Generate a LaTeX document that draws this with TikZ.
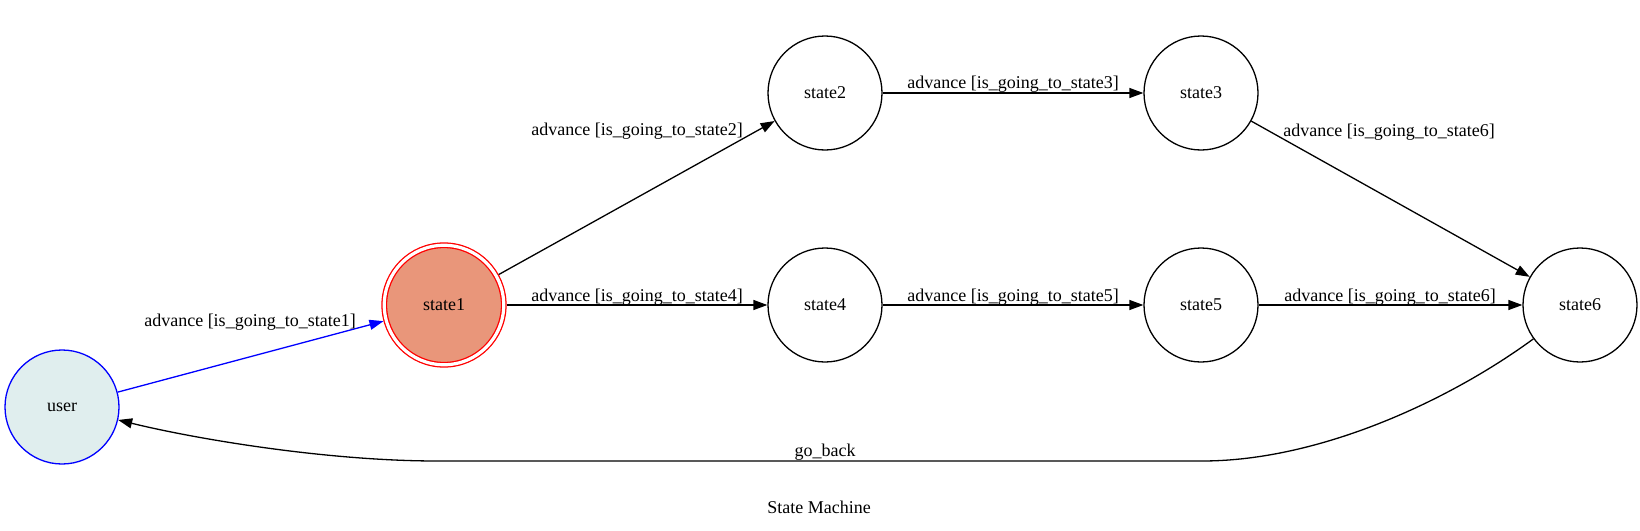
\documentclass[tikz,border=0pt]{standalone}
\usepackage{fontspec}
\setmainfont{Liberation Serif}
\usetikzlibrary{arrows.meta}
\definecolor{userfill}{HTML}{E0EEEE}
\definecolor{sonefill}{HTML}{E9967A}
\begin{document}
\begin{tikzpicture}[x=1pt,y=-1pt,
  every node/.style={font=\fontsize{18}{21}\selectfont},
  st/.style={circle, draw, line width=1.3pt, minimum size=114pt, inner sep=0pt},
  edge/.style={line width=1.3pt, -{Triangle[length=14pt,width=10pt]}},
  lbl/.style={inner sep=0pt, anchor=base}]
\useasboundingbox (0,0) rectangle (1640,530);
\node[st, draw=blue, fill=userfill] (user) at (62,407) {user};
\node[st, draw=red, fill=sonefill, double=white, double distance=3.2pt, minimum size=119.5pt, outer sep=2.9pt] (state1) at (444,305) {state1};
\node[st] (state2) at (825,93) {state2};
\node[st] (state3) at (1201,93) {state3};
\node[st] (state4) at (825,305) {state4};
\node[st] (state5) at (1201,305) {state5};
\node[st] (state6) at (1580,305) {state6};

\draw[edge, blue] (user) -- (state1);
\draw[edge] (state1) -- (state2);
\draw[edge] (state1) -- (state4);
\draw[edge] (state2) -- (state3);
\draw[edge] (state4) -- (state5);
\draw[edge] (state3) -- (state6);
\draw[edge] (state5) -- (state6);
\coordinate (gbr) at (1202,461);
\coordinate (gbl) at (437,461);
\draw[edge] (state6.216) .. controls (1450,400) and (1320,461) .. (gbr) -- (gbl) .. controls (330,461) and (200,440) .. (user.347);

\node[lbl] (l1) at (250,326) {advance [is\_going\_to\_state1]};
\node[lbl] (l2) at (637,135) {advance [is\_going\_to\_state2]};
\node[lbl] (l4) at (637,301) {advance [is\_going\_to\_state4]};
\node[lbl] (l3) at (1013,88) {advance [is\_going\_to\_state3]};
\node[lbl] (l5) at (1013,301) {advance [is\_going\_to\_state5]};
\node[lbl] (l36) at (1389,136) {advance [is\_going\_to\_state6]};
\node[lbl] (l56) at (1390,301) {advance [is\_going\_to\_state6]};
\node[lbl] (gb) at (825,456) {go\_back};
\node[lbl] (title) at (819,513) {State Machine};
\end{tikzpicture}
\end{document}
